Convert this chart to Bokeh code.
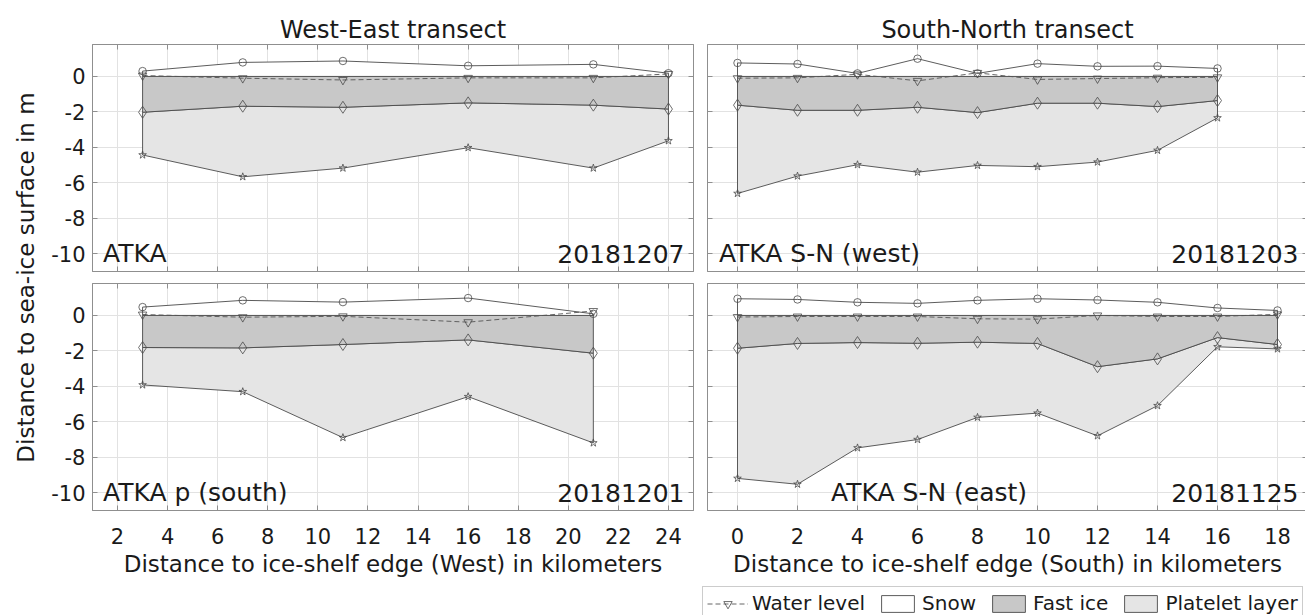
import math
from bokeh.plotting import figure
from bokeh.models import (ColumnDataSource, FixedTicker, LinearAxis, Range1d,
                          Legend, LegendItem, Label, Title, Spacer)
from bokeh.layouts import row, column
from bokeh.embed import file_html
from bokeh.resources import INLINE
from bokeh.core.properties import value

FONT = "DejaVu Sans"
FRAME = "#8f8f8f"
GRID = "#e2e2e2"
LINE = "#4a4a4a"
FAST_C = "#c8c8c8"
PLAT_C = "#e5e5e5"
TEXT = "#1a1a1a"

# ---------------- data ----------------
y_ticks = [-10, -8, -6, -4, -2, 0]
y_tick_labels = ["-10", "-8", "-6", "-4", "-2", "0"]
we_ticks = [2, 4, 6, 8, 10, 12, 14, 16, 18, 20, 22, 24]
we_tick_labels = ["2", "4", "6", "8", "10", "12", "14", "16", "18", "20", "22", "24"]
sn_ticks = [0, 2, 4, 6, 8, 10, 12, 14, 16, 18]
sn_tick_labels = ["0", "2", "4", "6", "8", "10", "12", "14", "16", "18"]

# ATKA, 20181207 (West-East)
atka_x = [3, 7, 11, 16, 21, 24]
atka_snow = [0.30, 0.79, 0.87, 0.60, 0.68, 0.18]
atka_water = [0.05, -0.10, -0.20, -0.08, -0.08, 0.14]
atka_fast = [-2.02, -1.68, -1.74, -1.49, -1.62, -1.84]
atka_plat = [-4.43, -5.66, -5.17, -4.02, -5.17, -3.63]

# ATKA p (south), 20181201 (West-East)
atkap_x = [3, 7, 11, 16, 21]
atkap_snow = [0.47, 0.85, 0.75, 0.98, 0.09]
atkap_water = [0.05, -0.10, -0.05, -0.38, 0.25]
atkap_fast = [-1.81, -1.83, -1.64, -1.38, -2.13]
atkap_plat = [-3.92, -4.30, -6.89, -4.58, -7.19]

# ATKA S-N (west), 20181203 (South-North)
snw_x = [0, 2, 4, 6, 8, 10, 12, 14, 16]
snw_snow = [0.76, 0.70, 0.17, 1.00, 0.17, 0.72, 0.57, 0.58, 0.45]
snw_water = [-0.10, -0.08, 0.12, -0.25, 0.20, -0.17, -0.12, -0.07, -0.05]
snw_fast = [-1.62, -1.91, -1.91, -1.74, -2.04, -1.51, -1.51, -1.70, -1.36]
snw_plat = [-6.60, -5.62, -4.98, -5.40, -5.02, -5.09, -4.83, -4.17, -2.34]

# ATKA S-N (east), 20181125 (South-North)
sne_x = [0, 2, 4, 6, 8, 10, 12, 14, 16, 18]
sne_snow = [0.94, 0.90, 0.74, 0.68, 0.85, 0.94, 0.87, 0.74, 0.42, 0.28]
sne_water = [-0.09, -0.06, -0.06, -0.06, -0.19, -0.21, 0.00, -0.06, -0.06, 0.06]
sne_fast = [-1.85, -1.58, -1.53, -1.57, -1.51, -1.58, -2.89, -2.45, -1.25, -1.64]
sne_plat = [-9.19, -9.52, -7.47, -7.00, -5.75, -5.51, -6.79, -5.09, -1.77, -1.89]

titles = ["West-East transect", "South-North transect"]
x_titles = ["Distance to ice-shelf edge (West) in kilometers",
            "Distance to ice-shelf edge (South) in kilometers"]
y_title = "Distance to sea-ice surface in m"
legend_labels = ["Water level", "Snow", "Fast ice", "Platelet layer"]


def style_axis(ax, ticks, labels, show):
    ax.ticker = FixedTicker(ticks=ticks)
    ax.major_tick_in = 5
    ax.major_tick_out = 0
    ax.minor_tick_in = 0
    ax.minor_tick_out = 0
    ax.axis_line_color = FRAME
    ax.major_tick_line_color = FRAME
    ax.major_label_text_font = FONT
    ax.major_label_text_color = TEXT
    if show:
        ax.major_label_text_font_size = "21px"
        ax.major_label_overrides = {t: l for t, l in zip(ticks, labels)}
    else:
        ax.major_label_text_font_size = "0px"
        ax.major_label_overrides = {t: "" for t in ticks}
        ax.major_label_standoff = 0


def draw_layers(p, x, snow, water, fast, plat, visible=True):
    zeros = [0.0] * len(x)
    xs = list(x) + list(x)[::-1]
    r_plat = p.patch(xs, list(fast) + list(plat)[::-1], fill_color=PLAT_C,
                     line_color=LINE, line_width=0.9, visible=visible)
    r_fast = p.patch(xs, zeros + list(fast)[::-1], fill_color=FAST_C,
                     line_color=LINE, line_width=0.9, visible=visible)
    r_snow = p.patch(xs, list(snow) + zeros, fill_color="white",
                     line_color=LINE, line_width=0.9, visible=visible)
    r_wl = p.line(x, water, line_color="#555555", line_width=0.9,
                  line_dash="5 3", visible=visible)
    if visible:
        p.scatter(x, snow, marker="circle", size=7.5, fill_alpha=0,
                  line_color=LINE, line_width=0.8)
        p.scatter(x, fast, marker="diamond", size=12, fill_alpha=0,
                  line_color=LINE, line_width=0.8)
        p.scatter(x, plat, marker="star", size=8, fill_alpha=0,
                  line_color=LINE, line_width=0.8)
    r_wm = p.scatter(x, water, marker="inverted_triangle", size=8.5,
                     fill_alpha=0, line_color=LINE, line_width=0.8,
                     visible=visible)
    return r_wl, r_wm, r_snow, r_fast, r_plat


def panel(x, snow, water, fast, plat, name, date, xr, ticks, tick_labels,
          name_x, fw, show_x, show_y, title=None, xtitle=None,
          mbl=7, mbr=1, mbt=6, mbb=6):
    p = figure(frame_width=fw, frame_height=227,
               x_range=Range1d(*xr), y_range=Range1d(-11, 1.8),
               title=None, toolbar_location=None, output_backend="svg",
               min_border_left=mbl, min_border_right=mbr,
               min_border_top=mbt, min_border_bottom=mbb,
               outline_line_color=FRAME, background_fill_color="white",
               border_fill_color="white")
    xa = p.xaxis[0]
    ya = p.yaxis[0]
    style_axis(xa, ticks, tick_labels, show_x)
    style_axis(ya, y_ticks, y_tick_labels, show_y)
    if show_x:
        xa.major_label_standoff = 17
    if show_y:
        ya.major_label_standoff = 7
    top = LinearAxis()
    right = LinearAxis()
    style_axis(top, ticks, tick_labels, False)
    style_axis(right, y_ticks, y_tick_labels, False)
    p.add_layout(top, "above")
    p.add_layout(right, "right")
    if title:
        p.add_layout(Title(text=title, align="center", text_font=FONT,
                           text_font_size="24px", text_font_style="normal",
                           text_color=TEXT, standoff=2), "above")
    if xtitle:
        xa.axis_label = xtitle
        xa.axis_label_text_font = FONT
        xa.axis_label_text_font_size = "23px"
        xa.axis_label_text_font_style = "normal"
        xa.axis_label_text_color = TEXT
        xa.axis_label_standoff = 4
    p.xgrid[0].ticker = FixedTicker(ticks=ticks)
    p.ygrid[0].ticker = FixedTicker(ticks=y_ticks)
    p.grid.grid_line_color = GRID

    draw_layers(p, x, snow, water, fast, plat)

    src = ColumnDataSource(dict(x=[name_x], y=[-10], t=[name]))
    p.text(x="x", y="y", text="t", source=src, text_font=value(FONT),
           text_font_size="25px", text_baseline="middle", text_align="left",
           text_color=TEXT)
    src2 = ColumnDataSource(dict(x=[xr[1]], y=[-10], t=[date]))
    p.text(x="x", y="y", text="t", source=src2, text_font=value(FONT),
           text_font_size="25px", text_baseline="middle", text_align="right",
           text_color=TEXT, x_offset=-9)
    return p


tl = panel(atka_x, atka_snow, atka_water, atka_fast, atka_plat,
           "ATKA", "20181207", (1, 25), we_ticks, we_tick_labels, 1.42,
           601, False, True, title=titles[0], mbl=41, mbr=7, mbt=44)
tr = panel(snw_x, snw_snow, snw_water, snw_fast, snw_plat,
           "ATKA S-N (west)", "20181203", (-1, 19), sn_ticks, sn_tick_labels,
           -0.62, 600, False, False, title=titles[1], mbl=7, mbr=1, mbt=44)
bl = panel(atkap_x, atkap_snow, atkap_water, atkap_fast, atkap_plat,
           "ATKA p (south)", "20181201", (1, 25), we_ticks, we_tick_labels,
           1.42, 601, True, True, xtitle=x_titles[0], mbl=41, mbr=7, mbb=72)
br = panel(sne_x, sne_snow, sne_water, sne_fast, sne_plat,
           "ATKA S-N (east)", "20181125", (-1, 19), sn_ticks, sn_tick_labels,
           3.12, 600, True, False, xtitle=x_titles[1], mbl=7, mbr=1, mbb=72)

# legend strip (its renderers carry the legend glyph styles only)
lfig = figure(width=607, height=33, x_range=Range1d(-1, 19),
              y_range=Range1d(-11, 1.8), min_border=0,
              toolbar_location=None, output_backend="svg",
              x_axis_location=None, y_axis_location=None,
              outline_line_color=None)
lfig.grid.visible = False
r_wl, r_wm, r_snow, r_fast, r_plat = draw_layers(
    lfig, sne_x, sne_snow, sne_water, sne_fast, sne_plat, visible=False)
legend = Legend(items=[
    LegendItem(label=legend_labels[0], renderers=[r_wl, r_wm]),
    LegendItem(label=legend_labels[1], renderers=[r_snow]),
    LegendItem(label=legend_labels[2], renderers=[r_fast]),
    LegendItem(label=legend_labels[3], renderers=[r_plat]),
], orientation="horizontal", location="top_left", margin=4, padding=4,
    spacing=12, glyph_width=41, glyph_height=21, label_standoff=4,
    label_height=21,
    label_text_font=FONT, label_text_font_size="20px", label_text_color=TEXT,
    border_line_color="#9a9a9a", border_line_width=1,
    background_fill_color="white", background_fill_alpha=1)
lfig.add_layout(legend, "center")

H = 615
yfig = figure(width=48, height=H, x_range=Range1d(0, 48), y_range=Range1d(0, H),
              min_border=0, toolbar_location=None, output_backend="svg",
              x_axis_location=None, y_axis_location=None,
              outline_line_color=None)
yfig.grid.visible = False
yfig.add_layout(Label(x=25, y=H - 277, text=y_title, angle=math.pi / 2,
                      text_align="center", text_baseline="middle",
                      text_font=FONT, text_font_size="23px", text_color=TEXT))

layout = row(yfig, column(row(tl, tr), row(bl, br),
                          row(Spacer(width=650, height=33), lfig)))
open("out.html", "w").write(file_html(layout, INLINE))
